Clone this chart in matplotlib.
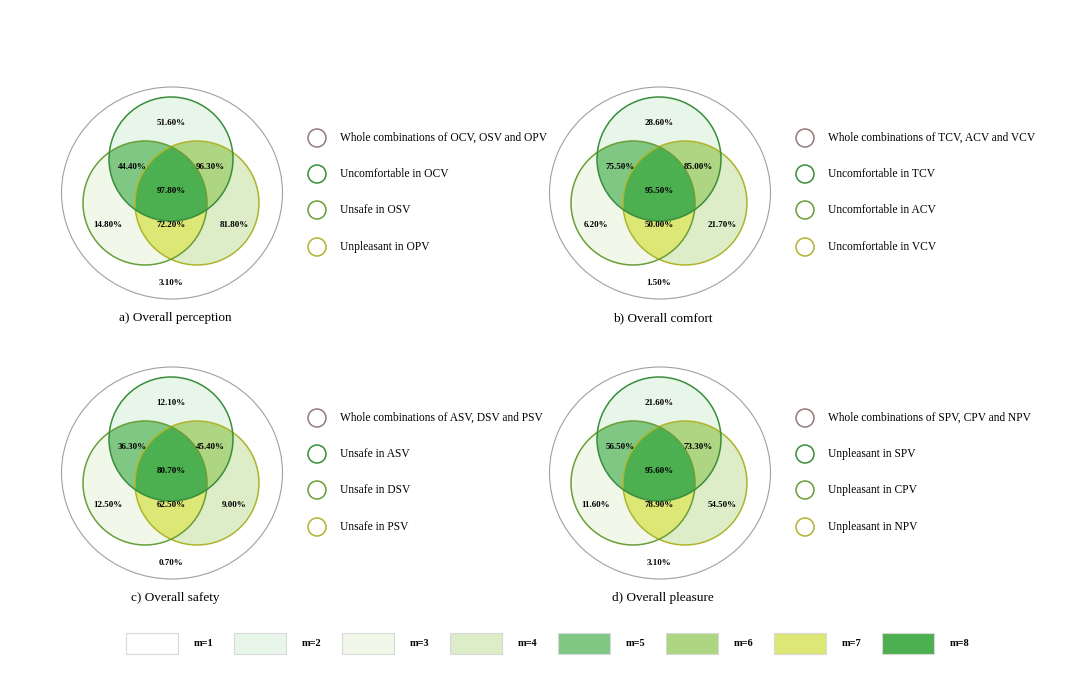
import matplotlib.pyplot as plt
import numpy as np
from matplotlib.patches import Circle, Ellipse, Polygon, Rectangle

# region values in %: top only, top&left, top&right, all three, left only, left&right, right only, outside
panel_titles = ['a) Overall perception', 'b) Overall comfort', 'c) Overall safety', 'd) Overall pleasure']
values_a = [51.60, 44.40, 96.30, 97.80, 14.80, 72.20, 81.80, 3.10]
values_b = [28.60, 75.50, 85.00, 95.50, 6.20, 50.00, 21.70, 1.50]
values_c = [12.10, 36.30, 45.40, 80.70, 12.50, 62.50, 9.00, 0.70]
values_d = [21.60, 56.50, 73.30, 95.60, 11.60, 78.90, 54.50, 3.10]

legend_a = ['Whole combinations of OCV, OSV and OPV', 'Uncomfortable in OCV', 'Unsafe in OSV', 'Unpleasant in OPV']
legend_b = ['Whole combinations of TCV, ACV and VCV', 'Uncomfortable in TCV', 'Uncomfortable in ACV', 'Uncomfortable in VCV']
legend_c = ['Whole combinations of ASV, DSV and PSV', 'Unsafe in ASV', 'Unsafe in DSV', 'Unsafe in PSV']
legend_d = ['Whole combinations of SPV, CPV and NPV', 'Unpleasant in SPV', 'Unpleasant in CPV', 'Unpleasant in NPV']

m_labels = ['m=1', 'm=2', 'm=3', 'm=4', 'm=5', 'm=6', 'm=7', 'm=8']
m_colors = ['#ffffff', '#e8f5e9', '#f1f8e9', '#dcedc8', '#81c784', '#aed581', '#dce775', '#4caf50']

edge_colors = ['#957a7a', '#388e3c', '#689f38', '#afb42b']
FONT = 'Liberation Serif'


def region(circles):
    # intersection of circles as a convex polygon
    pts = []
    t = np.linspace(0, 2 * np.pi, 720, endpoint=False)
    for i, (cx, cy, r) in enumerate(circles):
        p = np.column_stack([cx + r * np.cos(t), cy + r * np.sin(t)])
        keep = np.ones(len(p), bool)
        for j, (ox, oy, orr) in enumerate(circles):
            if j != i:
                keep &= np.hypot(p[:, 0] - ox, p[:, 1] - oy) <= orr + 1e-9
        pts.append(p[keep])
    pts = np.vstack(pts)
    c = pts.mean(axis=0)
    order = np.argsort(np.arctan2(pts[:, 1] - c[1], pts[:, 0] - c[0]))
    return pts[order]


def draw_venn(ax, ox, oy, values, title, legend):
    r = 62
    top = (ox - 1, oy - 34, r)
    left = (ox - 27, oy + 10, r)
    right = (ox + 25, oy + 10, r)

    ax.add_patch(Ellipse((ox, oy), 221, 212, fill=False, ec='#a0a0a0', lw=0.8))

    ax.add_patch(Circle(top[:2], r, fc=m_colors[1], ec='none'))
    ax.add_patch(Circle(left[:2], r, fc=m_colors[2], ec='none'))
    ax.add_patch(Circle(right[:2], r, fc=m_colors[3], ec='none'))
    ax.add_patch(Polygon(region([top, left]), fc=m_colors[4], ec='none'))
    ax.add_patch(Polygon(region([top, right]), fc=m_colors[5], ec='none'))
    ax.add_patch(Polygon(region([left, right]), fc=m_colors[6], ec='none'))
    ax.add_patch(Polygon(region([top, left, right]), fc=m_colors[7], ec='none'))

    ax.add_patch(Circle(right[:2], r, fill=False, ec=edge_colors[3], lw=1.1))
    ax.add_patch(Circle(left[:2], r, fill=False, ec=edge_colors[2], lw=1.1))
    ax.add_patch(Circle(top[:2], r, fill=False, ec=edge_colors[1], lw=1.1))

    offsets = [(-1, -70), (-40, -26), (38, -26), (-1, -2), (-64, 32), (-1, 32), (62, 32), (-1, 90)]
    for (dx, dy), v in zip(offsets, values):
        ax.text(ox + dx, oy + dy, f'{v:.2f}%', ha='center', va='center',
                fontsize=6.5, fontweight='bold', family=FONT)

    ax.text(ox + 3, oy + 125, title, ha='center', va='center', fontsize=9.5, family=FONT)

    for k, (dy, lab) in enumerate(zip([-55, -19, 17, 54], legend)):
        ax.add_patch(Circle((ox + 145, oy + dy), 9, fill=False, ec=edge_colors[k], lw=1.1))
        ax.text(ox + 168, oy + dy, lab, ha='left', va='center', fontsize=8.3, family=FONT)


def main():
    fig = plt.figure(figsize=(10.8, 6.75), dpi=100)
    ax = fig.add_axes([0, 0, 1, 1])
    ax.set_xlim(0, 1080)
    ax.set_ylim(675, 0)
    ax.axis('off')

    draw_venn(ax, 172, 193, values_a, panel_titles[0], legend_a)
    draw_venn(ax, 660, 193, values_b, panel_titles[1], legend_b)
    draw_venn(ax, 172, 473, values_c, panel_titles[2], legend_c)
    draw_venn(ax, 660, 473, values_d, panel_titles[3], legend_d)

    for i, (lab, col) in enumerate(zip(m_labels, m_colors)):
        x0 = 126 + 108 * i
        ax.add_patch(Rectangle((x0, 633), 52, 21, fc=col, ec='#d9d9d9', lw=0.8))
        ax.text(x0 + 78, 644, lab, ha='center', va='center', fontsize=7.5,
                fontweight='bold', family=FONT)

    fig.savefig('out.png', dpi=100)
    plt.close(fig)


if __name__ == "__main__":
    main()
